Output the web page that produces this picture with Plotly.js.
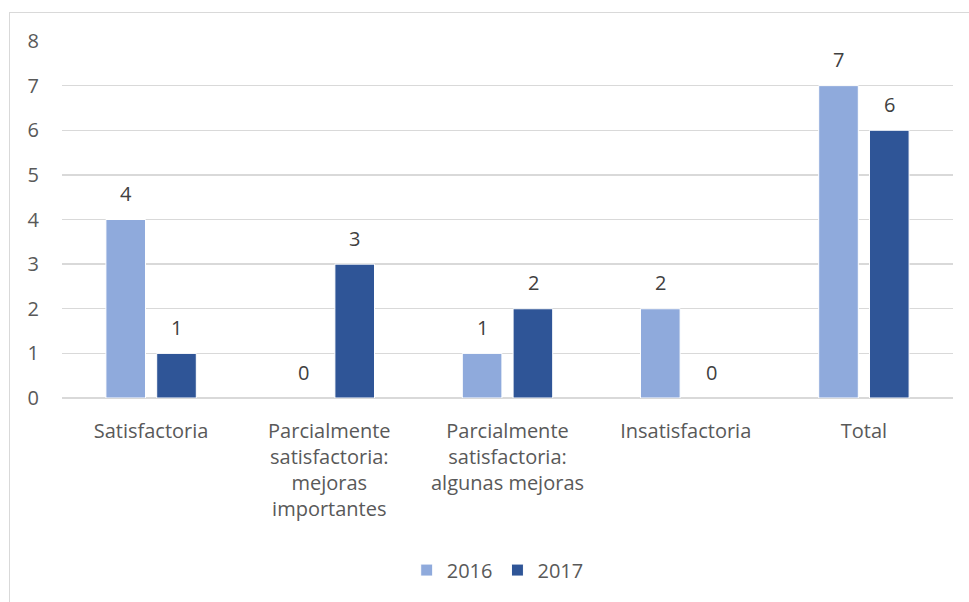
<!DOCTYPE html>
<html>
<head>
<meta charset="utf-8">
<script src="https://cdn.plot.ly/plotly-3.0.1.min.js"></script>
<style>
html,body{margin:0;padding:0;background:#fff;}
#frame{position:absolute;left:9px;top:12px;width:980px;height:620px;border-left:1.5px solid #D9D9D9;border-top:1.5px solid #D9D9D9;pointer-events:none;}
#chart{position:absolute;left:0;top:0;width:969px;height:602px;}
</style>
</head>
<body>
<div id="chart"></div>
<div id="frame"></div>
<script>
const categories = ["Satisfactoria", "Parcialmente<br>satisfactoria:<br>mejoras<br>importantes", "Parcialmente<br>satisfactoria:<br>algunas mejoras", "Insatisfactoria", "Total"];
const series2016 = [4, 0, 1, 2, 7];
const series2017 = [1, 3, 2, 0, 6];
const seriesNames = ["2016", "2017"];
const yTicks = [0, 1, 2, 3, 4, 5, 6, 7, 8];

const FONT = "Open Sans, Lato, sans-serif";
const GREY = "#595959";
const FS = 20;

const outline = vals => vals.map(v => (v === 0 ? 0 : 1));

const traces = [
  {type: "bar", name: seriesNames[0], x: categories, y: series2016,
   marker: {color: "#8FAADC", line: {color: "#FFFFFF", width: outline(series2016)}}, hoverinfo: "none"},
  {type: "bar", name: seriesNames[1], x: categories, y: series2017,
   marker: {color: "#2F5597", line: {color: "#FFFFFF", width: outline(series2017)}}, hoverinfo: "none"}
];

const annotations = [];
[series2016, series2017].forEach((vals, si) => {
  vals.forEach((v, i) => {
    annotations.push({
      x: categories[i], y: v, xref: "x", yref: "y",
      text: String(v), showarrow: false,
      xshift: si === 0 ? -25.5 : 25.5, yshift: 26,
      yanchor: "middle", xanchor: "center",
      font: {family: FONT, size: FS, color: "#404040"}
    });
  });
});

const layout = {
  width: 969, height: 602,
  margin: {l: 62, r: 16, t: 41, b: 202},
  paper_bgcolor: "#FFFFFF", plot_bgcolor: "#FFFFFF",
  barmode: "group", bargap: 0.43, bargroupgap: 0.22,
  font: {family: FONT, size: FS, color: GREY},
  xaxis: {type: "category", showgrid: false, zeroline: false, showline: false,
          ticks: "outside", ticklen: 15, tickcolor: "rgba(0,0,0,0)",
          tickfont: {family: FONT, size: FS, color: GREY}},
  yaxis: {range: [0, 8], tickvals: yTicks, showgrid: true, gridcolor: "#D9D9D9", gridwidth: 1.3,
          zeroline: true, zerolinecolor: "#D9D9D9", zerolinewidth: 1.3, showline: false,
          ticks: "outside", ticklen: 18, tickcolor: "rgba(0,0,0,0)",
          tickfont: {family: FONT, size: FS, color: GREY}},
  showlegend: true,
  legend: {orientation: "h", x: 0.489, xanchor: "center", y: -0.482, yanchor: "middle",
           font: {family: FONT, size: FS, color: GREY}, itemwidth: 30, traceorder: "normal"},
  annotations: annotations
};

Plotly.newPlot("chart", traces, layout, {displayModeBar: false, staticPlot: true});
</script>
</body>
</html>
